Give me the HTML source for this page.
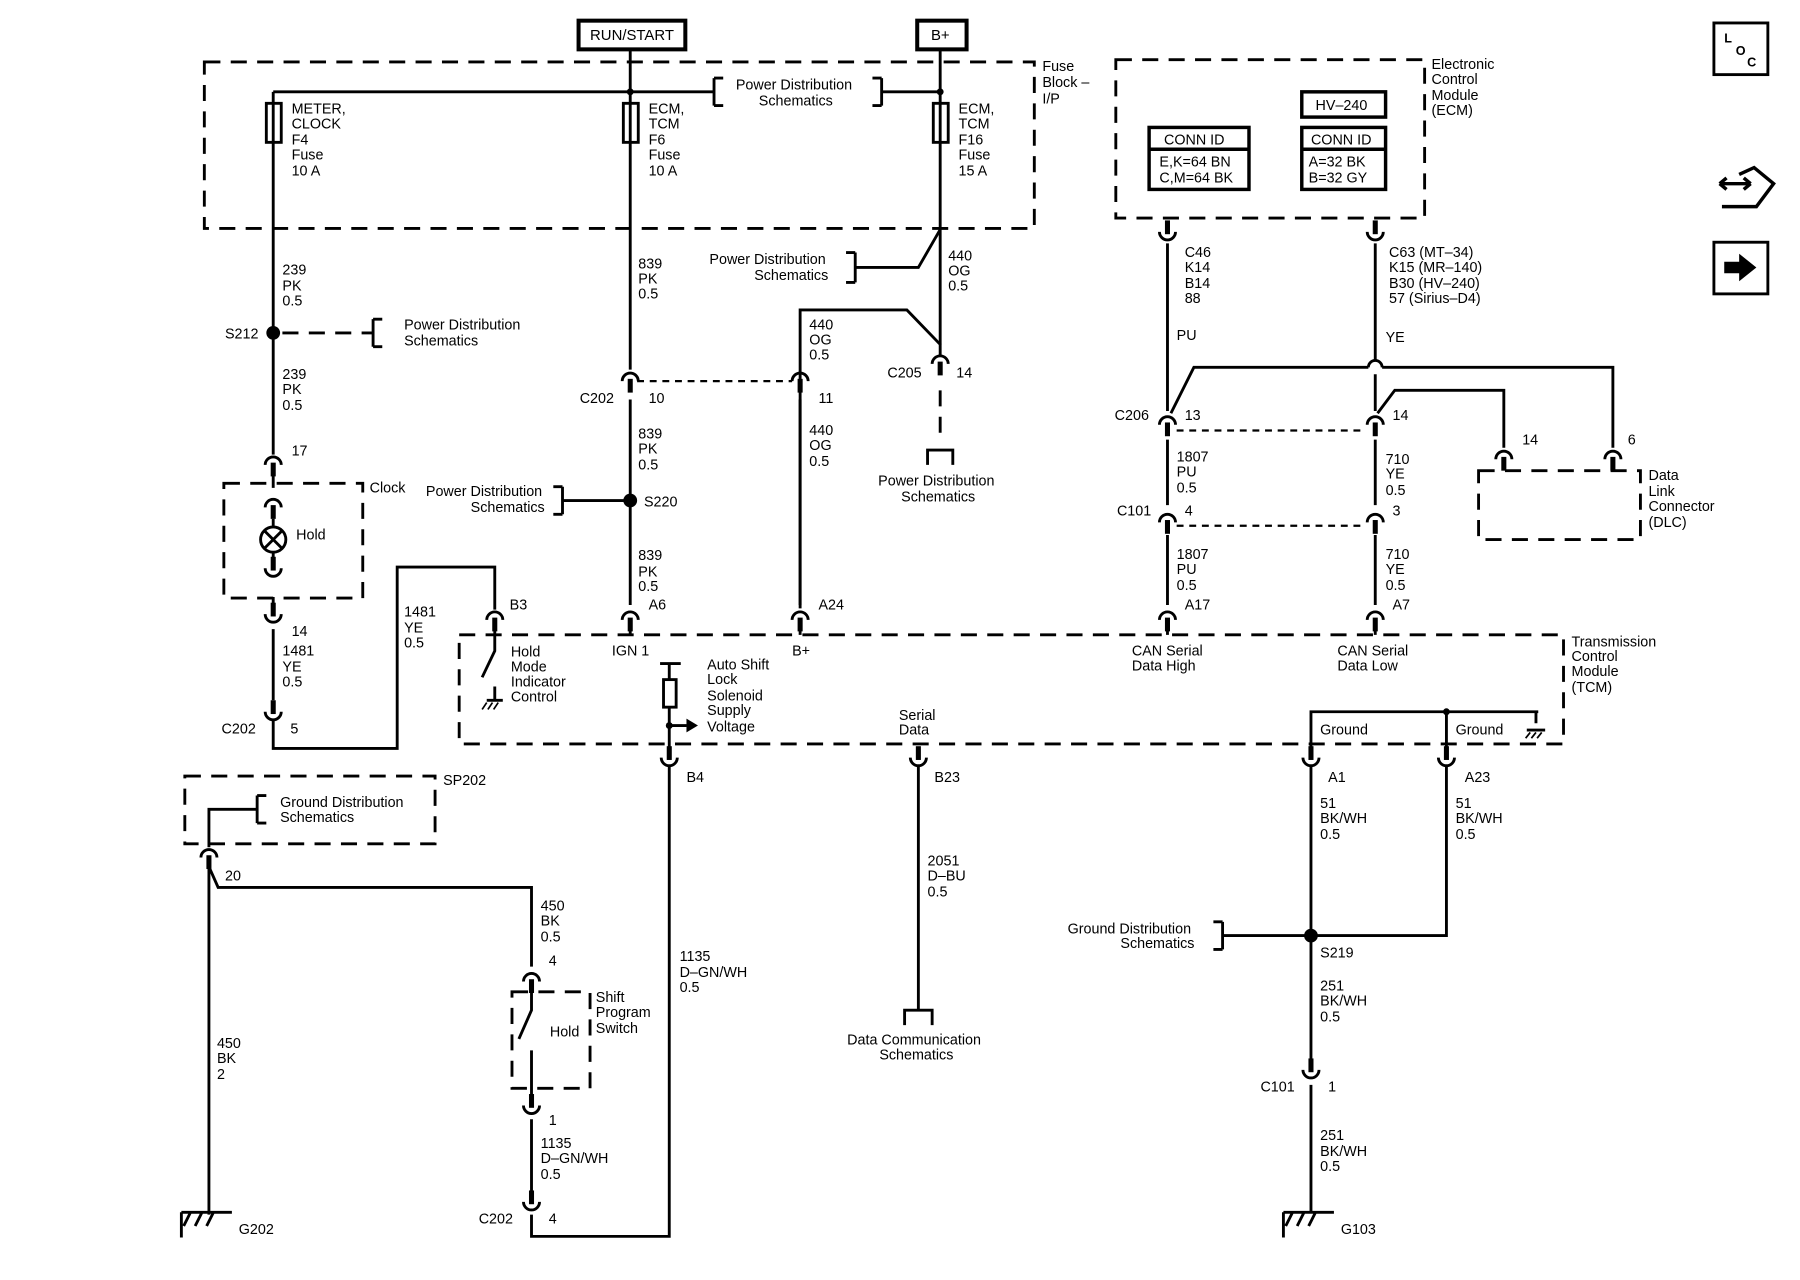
<!DOCTYPE html>
<html><head><meta charset="utf-8"><style>
html,body{margin:0;padding:0;background:#fff;}
svg{display:block;}
text{font-family:"Liberation Sans",sans-serif;font-size:12.5px;fill:#000;}
</style></head><body>
<svg width="1800" height="1280" viewBox="0 0 1568 1115" preserveAspectRatio="none" xmlns="http://www.w3.org/2000/svg">
<defs>
<g id="fd"><path d="M-7,5 A7,7 0 0 1 7,5" fill="none" stroke="#000" stroke-width="2.5"/><rect x="-2.2" y="3" width="4.4" height="12" fill="#000"/></g>
<g id="mu"><path d="M-7,-5 A7,7 0 0 0 7,-5" fill="none" stroke="#000" stroke-width="2.5"/><rect x="-2.2" y="-15" width="4.4" height="12" fill="#000"/></g>
<g id="gnd"><path d="M-22,0 H22 M-22,0 V22 M-14,0 L-20,12 M-4,0 L-10,12 M6,0 L0,12" stroke="#000" stroke-width="2.5" fill="none"/></g>
</defs>
<g fill="none" stroke="#000" stroke-width="2.5">
<rect x="504" y="18" width="93" height="25" stroke-width="3.5"/>
<rect x="799" y="18" width="43" height="25" stroke-width="3.5"/>
<g stroke-dasharray="14,9">
<rect x="178" y="54" width="723" height="145"/>
<rect x="972" y="52" width="269" height="138"/>
<rect x="1288" y="410" width="141" height="60"/>
<rect x="195" y="421" width="121" height="100"/>
<rect x="400" y="553" width="962" height="95"/>
<rect x="161" y="676" width="218" height="59"/>
<rect x="446" y="864" width="68" height="84"/>
<path d="M819,340 V385"/>
<path d="M246,290 H325"/>
</g>
<g stroke-dasharray="6,5" stroke-width="2">
<path d="M555,332 H690"/><path d="M1025,375 H1190"/><path d="M1025,458 H1190"/>
</g>
<path d="M549,43 V80 M819,43 V80 M238,80 H622 M768,80 H819"/>
<path d="M622,68 V92 M622,68 H630 M622,92 H630 M768,68 V92 M768,68 H760 M768,92 H760"/>
<rect x="232" y="90" width="13" height="34"/><rect x="543" y="90" width="13" height="34"/><rect x="813" y="90" width="13" height="34"/>
<path d="M238,80 V396 M549,80 V322 M819,80 V300"/>
<path d="M819,200 L800,233 H745 M745,220 V246 M745,220 H737 M745,246 H737"/>
<path d="M697,530 V270 H790 L819,300 V310"/>
<path d="M808,405 V392 H830 V405"/>
<path d="M325,278 V302 M325,278 H333 M325,302 H333"/>
<path d="M549,348 V527 M697,348 V527 M490,436 H549 M490,424 V448 M490,424 H482 M490,448 H482"/>
<path d="M238,412 V425 M238,452 V460 M238,480 V490 M238,520 V530 M238,548 V610 M238,628 V652 H346 V494 H431 V531"/>
<circle cx="238" cy="470" r="11"/><path d="M230,462 L246,478 M246,462 L230,478"/>
<path d="M431,548 V567 L420,590 M431,598 V610 M424,610 H438"/>
<path d="M549,548 V553 M697,548 V553"/>
<path d="M575,578 H593 M583,578 V592 M583,616 V652"/>
<rect x="578" y="592" width="11" height="24"/>
<path d="M583,632 H598"/>
<path d="M583,668 V1077 H463 V1058"/>
<path d="M800,668 V880 M788,893 V880 H812 V893"/>
<path d="M1142,652 V620 H1340 M1260,620 V652 M1338,620 V630 M1330,636 H1346"/>
<path d="M1142,668 V927 M1142,945 V1055 M1260,668 V815 H1142 M1065,815 H1142 M1065,803 V827 M1065,803 H1057 M1065,827 H1057"/>
<path d="M224,693 V717 M224,693 H232 M224,717 H232 M224,705 H182 V738 M182,755 L190,773 H463 V842 M463,860 V880 L452,905 M463,915 V958 M463,975 V1042 M182,755 V1058"/>
<rect x="1001" y="111" width="87" height="54" stroke-width="3"/><path d="M1001,130 H1088" stroke-width="3"/>
<rect x="1134" y="111" width="73" height="54" stroke-width="3"/><path d="M1134,130 H1207" stroke-width="3"/>
<rect x="1134" y="80" width="73" height="22" stroke-width="3"/>
<path d="M1017,212 V358 M1198,212 V314 M1198,326 V358 M1020,360 L1040,320 H1192 M1204,320 H1405 V390 M1200,360 L1215,340 H1310 V390"/>
<path d="M1017,383 V440 M1198,383 V440 M1017,466 V527 M1198,466 V527 M1017,545 V553 M1198,545 V553"/>
</g>
<path d="M1192,320 A6,6 0 0 1 1204,320" fill="none" stroke="#000" stroke-width="2.5"/>
<polygon points="598,626 608,632 598,638" fill="#000"/>
<g fill="#000"><circle cx="549" cy="80" r="3"/><circle cx="819" cy="80" r="3"/><circle cx="238" cy="290" r="6"/><circle cx="549" cy="436" r="6"/><circle cx="1142" cy="815" r="6"/><circle cx="583" cy="632" r="3"/><circle cx="1260" cy="620" r="3"/></g>
<use href="#fd" x="549" y="327"/><use href="#fd" x="697" y="327"/><use href="#fd" x="819" y="312"/>
<use href="#fd" x="238" y="400"/><use href="#fd" x="238" y="437"/>
<use href="#mu" x="238" y="500"/><use href="#mu" x="238" y="540"/><use href="#mu" x="238" y="625"/>
<use href="#fd" x="431" y="535"/><use href="#fd" x="549" y="535"/><use href="#fd" x="697" y="535"/>
<use href="#fd" x="1017" y="535"/><use href="#fd" x="1198" y="535"/>
<use href="#mu" x="583" y="665"/><use href="#mu" x="800" y="665"/><use href="#mu" x="1142" y="665"/><use href="#mu" x="1260" y="665"/>
<use href="#mu" x="1017" y="207"/><use href="#mu" x="1198" y="207"/>
<use href="#fd" x="1017" y="365"/><use href="#fd" x="1198" y="365"/><use href="#fd" x="1017" y="450"/><use href="#fd" x="1198" y="450"/>
<use href="#fd" x="1310" y="395"/><use href="#fd" x="1405" y="395"/>
<use href="#fd" x="182" y="742"/><use href="#fd" x="463" y="850"/><use href="#mu" x="463" y="968"/><use href="#mu" x="463" y="1052"/>
<use href="#mu" x="1142" y="937"/>
<use href="#gnd" x="180" y="1056"/><use href="#gnd" x="1140" y="1056"/>
<path d="M424,612 L420,618 M429,612 L425,618 M434,612 L430,618" stroke="#000" stroke-width="1.5"/>
<path d="M1333,638 L1329,643 M1338,638 L1334,643 M1343,638 L1339,643" stroke="#000" stroke-width="1.5"/>
<rect x="1493" y="20" width="47" height="45" fill="none" stroke="#000" stroke-width="2.5"/>
<text x="1502" y="37" style="font-size:11px;font-weight:bold">L</text><text x="1512" y="48" style="font-size:11px;font-weight:bold">O</text><text x="1522" y="58" style="font-size:11px;font-weight:bold">C</text>
<path d="M1498,160 H1525 M1498,160 l6,-5 M1498,160 l6,5 M1525,160 l-6,-5 M1525,160 l-6,5 M1515,152 L1528,146 L1545,160 L1530,180 L1512,180 M1500,180 H1530" fill="none" stroke="#000" stroke-width="3"/>
<rect x="1493" y="211" width="47" height="45" fill="none" stroke="#000" stroke-width="2.5"/>
<polygon points="1502,228 1515,228 1515,221 1530,233 1515,245 1515,238 1502,238" fill="#000"/>
<g>
<text x="514" y="35" style="font-size:13px">RUN/START</text><text x="811" y="35" style="font-size:13px">B+</text>
<text x="908" y="62">Fuse</text><text x="908" y="76">Block –</text><text x="908" y="90">I/P</text>
<text x="641" y="78">Power Distribution</text><text x="661" y="92">Schematics</text>
<text x="254" y="99">METER,</text><text x="254" y="112">CLOCK</text><text x="254" y="126">F4</text><text x="254" y="139">Fuse</text><text x="254" y="153">10 A</text>
<text x="565" y="99">ECM,</text><text x="565" y="112">TCM</text><text x="565" y="126">F6</text><text x="565" y="139">Fuse</text><text x="565" y="153">10 A</text>
<text x="835" y="99">ECM,</text><text x="835" y="112">TCM</text><text x="835" y="126">F16</text><text x="835" y="139">Fuse</text><text x="835" y="153">15 A</text>
<text x="246" y="239">239</text><text x="246" y="253">PK</text><text x="246" y="266">0.5</text>
<text x="196" y="295">S212</text>
<text x="352" y="287">Power Distribution</text><text x="352" y="301">Schematics</text>
<text x="246" y="330">239</text><text x="246" y="343">PK</text><text x="246" y="357">0.5</text>
<text x="254" y="397">17</text>
<text x="322" y="429">Clock</text><text x="258" y="470">Hold</text>
<text x="254" y="554">14</text><text x="246" y="571">1481</text><text x="246" y="585">YE</text><text x="246" y="598">0.5</text>
<text x="193" y="639">C202</text><text x="253" y="639">5</text>
<text x="352" y="537">1481</text><text x="352" y="551">YE</text><text x="352" y="564">0.5</text>
<text x="444" y="531">B3</text>
<text x="445" y="572">Hold</text><text x="445" y="585">Mode</text><text x="445" y="598">Indicator</text><text x="445" y="611">Control</text>
<text x="556" y="234">839</text><text x="556" y="247">PK</text><text x="556" y="260">0.5</text>
<text x="618" y="230">Power Distribution</text><text x="657" y="244">Schematics</text>
<text x="826" y="227">440</text><text x="826" y="240">OG</text><text x="826" y="253">0.5</text>
<text x="705" y="287">440</text><text x="705" y="300">OG</text><text x="705" y="313">0.5</text>
<text x="773" y="329">C205</text><text x="833" y="329">14</text>
<text x="765" y="423">Power Distribution</text><text x="785" y="437">Schematics</text>
<text x="505" y="351">C202</text><text x="565" y="351">10</text><text x="713" y="351">11</text>
<text x="556" y="382">839</text><text x="556" y="395">PK</text><text x="556" y="409">0.5</text>
<text x="705" y="379">440</text><text x="705" y="392">OG</text><text x="705" y="406">0.5</text>
<text x="371" y="432">Power Distribution</text><text x="410" y="446">Schematics</text><text x="561" y="441">S220</text>
<text x="556" y="488">839</text><text x="556" y="502">PK</text><text x="556" y="515">0.5</text>
<text x="565" y="531">A6</text><text x="713" y="531">A24</text>
<text x="533" y="571">IGN 1</text><text x="690" y="571">B+</text>
<text x="616" y="583">Auto Shift</text><text x="616" y="596">Lock</text><text x="616" y="610">Solenoid</text><text x="616" y="623">Supply</text><text x="616" y="637">Voltage</text>
<text x="783" y="627">Serial</text><text x="783" y="640">Data</text>
<text x="986" y="571">CAN Serial</text><text x="986" y="584">Data High</text>
<text x="1165" y="571">CAN Serial</text><text x="1165" y="584">Data Low</text>
<text x="1369" y="563">Transmission</text><text x="1369" y="576">Control</text><text x="1369" y="589">Module</text><text x="1369" y="603">(TCM)</text>
<text x="1150" y="640">Ground</text><text x="1268" y="640">Ground</text>
<text x="598" y="681">B4</text><text x="814" y="681">B23</text><text x="1157" y="681">A1</text><text x="1276" y="681">A23</text>
<text x="1150" y="704">51</text><text x="1150" y="717">BK/WH</text><text x="1150" y="731">0.5</text>
<text x="1268" y="704">51</text><text x="1268" y="717">BK/WH</text><text x="1268" y="731">0.5</text>
<text x="386" y="684">SP202</text>
<text x="244" y="703">Ground Distribution</text><text x="244" y="716">Schematics</text>
<text x="196" y="767">20</text>
<text x="471" y="793">450</text><text x="471" y="806">BK</text><text x="471" y="820">0.5</text>
<text x="478" y="841">4</text>
<text x="519" y="873">Shift</text><text x="519" y="886">Program</text><text x="519" y="900">Switch</text><text x="479" y="903">Hold</text>
<text x="478" y="980">1</text>
<text x="471" y="1000">1135</text><text x="471" y="1013">D–GN/WH</text><text x="471" y="1027">0.5</text>
<text x="417" y="1066">C202</text><text x="478" y="1066">4</text>
<text x="189" y="913">450</text><text x="189" y="926">BK</text><text x="189" y="940">2</text>
<text x="208" y="1075">G202</text>
<text x="592" y="837">1135</text><text x="592" y="851">D–GN/WH</text><text x="592" y="864">0.5</text>
<text x="808" y="754">2051</text><text x="808" y="767">D–BU</text><text x="808" y="781">0.5</text>
<text x="738" y="910">Data Communication</text><text x="766" y="923">Schematics</text>
<text x="930" y="813">Ground Distribution</text><text x="976" y="826">Schematics</text>
<text x="1150" y="834">S219</text>
<text x="1150" y="863">251</text><text x="1150" y="876">BK/WH</text><text x="1150" y="890">0.5</text>
<text x="1098" y="951">C101</text><text x="1157" y="951">1</text>
<text x="1150" y="993">251</text><text x="1150" y="1007">BK/WH</text><text x="1150" y="1020">0.5</text>
<text x="1168" y="1075">G103</text>
<text x="1247" y="60">Electronic</text><text x="1247" y="73">Control</text><text x="1247" y="87">Module</text><text x="1247" y="100">(ECM)</text>
<text x="1146" y="96">HV–240</text>
<text x="1014" y="126">CONN ID</text><text x="1010" y="145">E,K=64 BN</text><text x="1010" y="159">C,M=64 BK</text>
<text x="1142" y="126">CONN ID</text><text x="1140" y="145">A=32 BK</text><text x="1140" y="159">B=32 GY</text>
<text x="1032" y="224">C46</text><text x="1032" y="237">K14</text><text x="1032" y="251">B14</text><text x="1032" y="264">88</text>
<text x="1210" y="224">C63 (MT–34)</text><text x="1210" y="237">K15 (MR–140)</text><text x="1210" y="251">B30 (HV–240)</text><text x="1210" y="264">57 (Sirius–D4)</text>
<text x="1025" y="296">PU</text><text x="1207" y="298">YE</text>
<text x="971" y="366">C206</text><text x="1032" y="366">13</text><text x="1213" y="366">14</text>
<text x="1326" y="387">14</text><text x="1418" y="387">6</text>
<text x="1436" y="418">Data</text><text x="1436" y="432">Link</text><text x="1436" y="445">Connector</text><text x="1436" y="459">(DLC)</text>
<text x="1025" y="402">1807</text><text x="1025" y="415">PU</text><text x="1025" y="429">0.5</text>
<text x="1207" y="404">710</text><text x="1207" y="417">YE</text><text x="1207" y="431">0.5</text>
<text x="973" y="449">C101</text><text x="1032" y="449">4</text><text x="1213" y="449">3</text>
<text x="1025" y="487">1807</text><text x="1025" y="500">PU</text><text x="1025" y="514">0.5</text>
<text x="1207" y="487">710</text><text x="1207" y="500">YE</text><text x="1207" y="514">0.5</text>
<text x="1032" y="531">A17</text><text x="1213" y="531">A7</text>
</g>
</svg>
</body></html>
